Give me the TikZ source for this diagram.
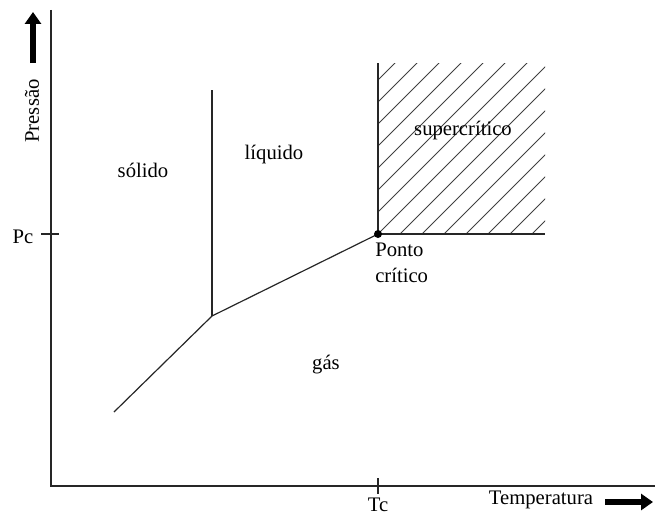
\documentclass[tikz,border=0pt]{standalone}
\usepackage{fontspec}
\setmainfont{Liberation Serif}
\usetikzlibrary{arrows.meta}
\begin{document}
\begin{tikzpicture}[x=0.75pt,y=-0.75pt,
  lbl/.style={font=\fontsize{15.5}{19}\selectfont, inner sep=0pt},
  axis/.style={line width=1pt, draw=black!85},
  curve/.style={line width=0.9pt, draw=black!85},
  bigarrow/.style={line width=5pt, -{Triangle[length=9pt,width=12pt]}},
  hatch/.style={line width=0.65pt, draw=black!75}]
\useasboundingbox (0,0) rectangle (655,517);
% coordinates
\coordinate (O) at (51,486);
\coordinate (ytop) at (51,10);
\coordinate (xend) at (655,486);
\coordinate (tp) at (212,316);
\coordinate (sl) at (114,412);
\coordinate (mtop) at (212,90);
\coordinate (cp) at (378,234);
\coordinate (sctop) at (378,63);
\coordinate (scright) at (545,234);
\coordinate (pcl) at (41,234);
\coordinate (pcr) at (59,234);
\coordinate (tct) at (378,478);
\coordinate (tcb) at (378,494);
% axes
\draw[axis] (ytop) -- (O) -- (xend);
\draw[axis] (pcl) -- (pcr);
\draw[axis] (tct) -- (tcb);
% hatching
\begin{scope}
\clip (378,63) rectangle (545,234);
\foreach \k in {-8,...,8}{
  \draw[hatch] (378+22*\k,234) -- ++(220,-220);
}
\end{scope}
% phase lines
\draw[curve] (sl) -- (tp) -- (cp);
\draw[curve] (tp) -- (mtop);
\draw[curve] (sctop) -- (cp) -- (scright);
\fill (cp) circle (4);
% labels
\node[lbl] (pc) at (23,237) {Pc};
\node[lbl] (tc) at (378,505) {Tc};
\node[lbl] (temp) at (541,500) {Temperatura};
\node[lbl, rotate=90] (pres) at (32,111) {Pressão};
\node[lbl] (sol) at (143,170) {sólido};
\node[lbl] (liq) at (274,155) {líquido};
\node[lbl] (sup) at (463,131) {supercrítico};
\node[lbl] (gas) at (326,365) {gás};
\node[lbl, anchor=north west, align=left] (ponto) at (375,243) {Ponto\\crítico};
% block arrows
\coordinate (ta1) at (605,502);
\coordinate (ta2) at (653,502);
\coordinate (pa1) at (33,63);
\coordinate (pa2) at (33,12);
\draw[bigarrow] (ta1) -- (ta2);
\draw[bigarrow] (pa1) -- (pa2);
\end{tikzpicture}
\end{document}
